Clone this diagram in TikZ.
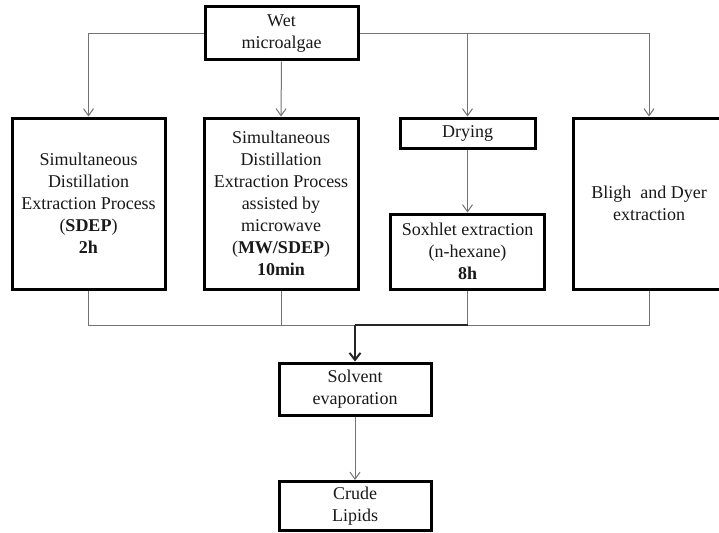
\documentclass[tikz,border=0pt]{standalone}
\usepackage{fontspec}
\setmainfont{Liberation Serif}
\usetikzlibrary{arrows.meta}
\begin{document}
\begin{tikzpicture}[x=1pt,y=-1pt,
  box/.style={draw=black,line width=3pt,fill=white,align=center,inner sep=0pt,
    font=\fontsize{18}{22}\selectfont,text=black!90},
  conn/.style={draw=black!55,line width=1pt},
  arr/.style={conn,-{Straight Barb[length=7pt,width=10pt]}},
  thick conn/.style={draw=black!85,line width=2pt},
  thick arr/.style={thick conn,-{Straight Barb[length=7pt,width=11pt]}}]
\useasboundingbox (0,0) rectangle (719,532);
\node[box,minimum width=153pt,minimum height=53pt] (wet) at (281.5,33.5) {Wet\\microalgae};
\node[box,minimum width=153pt,minimum height=171pt] (b1) at (88.5,203.5)
  {Simultaneous\\Distillation\\Extraction Process\\(\textbf{SDEP})\\\textbf{2h}};
\node[box,minimum width=154pt,minimum height=171pt] (b2) at (281,203.5)
  {Simultaneous\\Distillation\\Extraction Process\\assisted by\\microwave\\(\textbf{MW/SDEP})\\\textbf{10min}};
\node[box,minimum width=135pt,minimum height=30pt] (dry) at (467.5,133) {Drying};
\node[box,minimum width=154pt,minimum height=75pt] (sox) at (467.5,251.5)
  {Soxhlet extraction\\(n-hexane)\\\textbf{8h}};
\node[box,minimum width=152pt,minimum height=171pt] (b4) at (649,203.5) {Bligh~ and Dyer\\extraction};
\node[box,minimum width=152pt,minimum height=52pt] (solv) at (355,389) {Solvent\\evaporation};
\node[box,minimum width=152pt,minimum height=49pt] (crude) at (355,506) {Crude\\Lipids};
% top distribution
\draw[arr] (wet.west) -| (b1.north);
\draw[arr] (wet.east) -| (b4.north);
\draw[arr] (wet.south) -- (b2.north);
\coordinate (jd) at (dry.north |- wet.east);
\draw[arr] (jd) -- (dry.north);
\draw[arr] (dry.south) -- (sox.north);
% bottom collection
\coordinate (bus) at (0,325);
\draw[conn] (b1.south) -- (b1.south |- bus) -- (b4.south |- bus) -- (b4.south);
\draw[conn] (b2.south) -- (b2.south |- bus);
\draw[conn] (sox.south) -- (sox.south |- bus);
\draw[thick conn] (sox.south |- bus) -- (solv.north |- bus);
\draw[thick arr] (solv.north |- bus) -- (solv.north);
\draw[arr] (solv.south) -- (crude.north);
\end{tikzpicture}
\end{document}
